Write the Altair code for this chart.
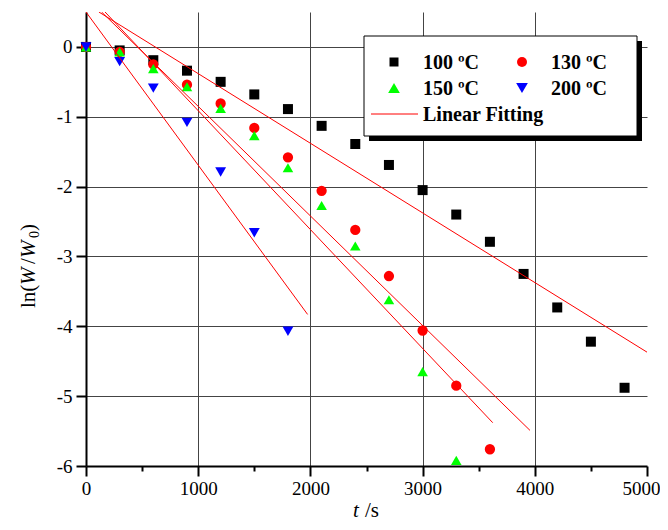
import altair as alt
import pandas as pd

# ---------------- data ----------------
t_vals = [0, 300, 600, 900, 1200, 1500, 1800, 2100, 2400, 2700, 3000, 3300, 3600, 3900, 4200, 4500, 4800]
ln_100 = [0, -0.05, -0.19, -0.34, -0.50, -0.68, -0.89, -1.13, -1.39, -1.69, -2.05, -2.40, -2.79, -3.25, -3.73, -4.22, -4.88]
ln_130 = [0, -0.07, -0.25, -0.54, -0.81, -1.16, -1.58, -2.06, -2.62, -3.28, -4.06, -4.85, -5.76]
ln_150 = [0, -0.07, -0.31, -0.57, -0.88, -1.27, -1.73, -2.27, -2.85, -3.62, -4.65, -5.92]
ln_200 = [0, -0.21, -0.59, -1.08, -1.79, -2.66, -4.07]

series_labels = ["100 ºC", "130 ºC", "150 ºC", "200 ºC"]
series_colors = ["#000000", "#ff0000", "#00ff00", "#0000ff"]
series_shapes = ["square", "circle", "triangle-up", "triangle-down"]
series_sizes = [100, 118, 160, 160]
series_values = [ln_100, ln_130, ln_150, ln_200]

fit_names = ["100", "130", "150", "200"]
fit_t0 = [115, 139, 170, 0]
fit_ln0 = [0.5, 0.5, 0.5, 0.5]
fit_t1 = [5000, 3957, 3625, 1975]
fit_ln1 = [-4.37, -5.49, -5.38, -3.83]

x_ticks = [500 * i for i in range(11)]
y_ticks = [-6 + 0.5 * i for i in range(14)]
fit_label = "Linear Fitting"

# ---------------- tables ----------------
rows = []
for lab, vals in zip(series_labels, series_values):
    for t, v in zip(t_vals, vals):
        rows.append({"series": lab, "t": t, "ln": v})
pts = pd.DataFrame(rows)

frows = []
for n, a, b, c, d in zip(fit_names, fit_t0, fit_ln0, fit_t1, fit_ln1):
    frows.append({"fit": n, "t": a, "ln": b})
    frows.append({"fit": n, "t": c, "ln": d})
fits = pd.DataFrame(frows)

SERIF = "Liberation Serif"
W, H = 561, 454

xscale = alt.Scale(domain=[0, 5000], nice=False, zero=False)
yscale = alt.Scale(domain=[-6, 0.5], nice=False, zero=False)

common_axis = dict(
    title=None, domainColor="black", domainWidth=2, tickColor="black", tickWidth=2,
    labelFont=SERIF, labelFontSize=19, labelColor="black", gridColor="#444444",
    gridWidth=1, labelOverlap=False, labelFlush=False,
)

x_axis = alt.Axis(
    values=x_ticks,
    labelExpr="datum.value % 1000 === 0 ? '' + datum.value : ''",
    tickSize={"condition": {"test": "datum.value % 1000 === 0", "value": 10}, "value": 5},
    gridOpacity={"condition": {"test": "datum.value % 1000 === 0 && datum.value > 0 && datum.value < 5000", "value": 1}, "value": 0},
    labelOffset={"condition": {"test": "datum.value === 5000", "value": -6}, "value": 0},
    labelPadding=3,
    **common_axis,
)
y_axis = alt.Axis(
    values=y_ticks,
    labelExpr="datum.value % 1 === 0 ? '' + datum.value : ''",
    tickSize={"condition": {"test": "datum.value % 1 === 0", "value": 10}, "value": 5},
    gridOpacity={"condition": {"test": "datum.value % 1 === 0 && datum.value > -6 && datum.value < 0.5", "value": 1}, "value": 0},
    labelPadding=4,
    **common_axis,
)

points = alt.Chart(pts).mark_point(filled=True, opacity=1).encode(
    x=alt.X("t:Q", scale=xscale, axis=x_axis),
    y=alt.Y("ln:Q", scale=yscale, axis=y_axis),
    color=alt.Color("series:N", scale=alt.Scale(domain=series_labels, range=series_colors), legend=None),
    shape=alt.Shape("series:N", scale=alt.Scale(domain=series_labels, range=series_shapes), legend=None),
    size=alt.Size("series:N", scale=alt.Scale(domain=series_labels, range=series_sizes), legend=None),
)

lines = alt.Chart(fits).mark_line(color="#ff0000", strokeWidth=1, clip=True).encode(
    x=alt.X("t:Q", scale=xscale),
    y=alt.Y("ln:Q", scale=yscale),
    detail="fit:N",
)

one = alt.Data(values=[{}])

def txt(s, x, y, size=18, weight="normal", style="normal", angle=0, align="left", baseline="alphabetic"):
    kw = dict(text=s, font=SERIF, fontSize=size, fontWeight=weight, fontStyle=style,
              align=align, baseline=baseline, color="black")
    if angle:
        kw["angle"] = angle
    return alt.Chart(one).mark_text(**kw).encode(x=alt.value(x), y=alt.value(y))

# legend box
leg_layers = [
    alt.Chart(one).mark_rect(color="black").encode(x=alt.value(283), x2=alt.value(556), y=alt.value(29), y2=alt.value(129)),
    alt.Chart(one).mark_rect(fill="white", stroke="black", strokeWidth=1).encode(x=alt.value(278), x2=alt.value(551), y=alt.value(24), y2=alt.value(124)),
]
leg_pos = [(308, 50), (436, 50), (308, 76), (436, 76)]
leg_sizes = [81, 100, 137, 137]
for (lx, ly), lab, col, shp, sz in zip(leg_pos, series_labels, series_colors, series_shapes, leg_sizes):
    leg_layers.append(alt.Chart(one).mark_point(filled=True, opacity=1, shape=shp, color=col, size=sz).encode(x=alt.value(lx), y=alt.value(ly)))
    leg_layers.append(txt(lab, lx + 29, ly + 7, size=20, weight="bold"))
leg_layers.append(alt.Chart(one).mark_rule(color="#ff0000", strokeWidth=1).encode(x=alt.value(285), x2=alt.value(332), y=alt.value(102)))
leg_layers.append(txt(fit_label, 337, 109, size=20, weight="bold"))

# axis titles (mixed italic)
titles = [
    txt("t", 267, 505, size=21, style="italic"),
    txt("/s", 279, 505, size=21),
    txt("ln(", -51, 296, size=21, angle=270),
    txt("W", -51, 273, size=21, style="italic", angle=270),
    txt("/", -51, 252, size=21, angle=270),
    txt("W", -51, 246, size=21, style="italic", angle=270),
    txt("0", -47, 226, size=14, angle=270),
    txt(")", -51, 219, size=21, angle=270),
]

chart = alt.layer(points, lines, *leg_layers, *titles).properties(
    width=W, height=H,
    autosize=alt.AutoSizeParams(type="none"),
    padding={"left": 78, "top": 4, "right": 13, "bottom": 56},
).configure_view(stroke="transparent")

chart.save("out.html", embed_options={"renderer": "svg", "actions": False})
